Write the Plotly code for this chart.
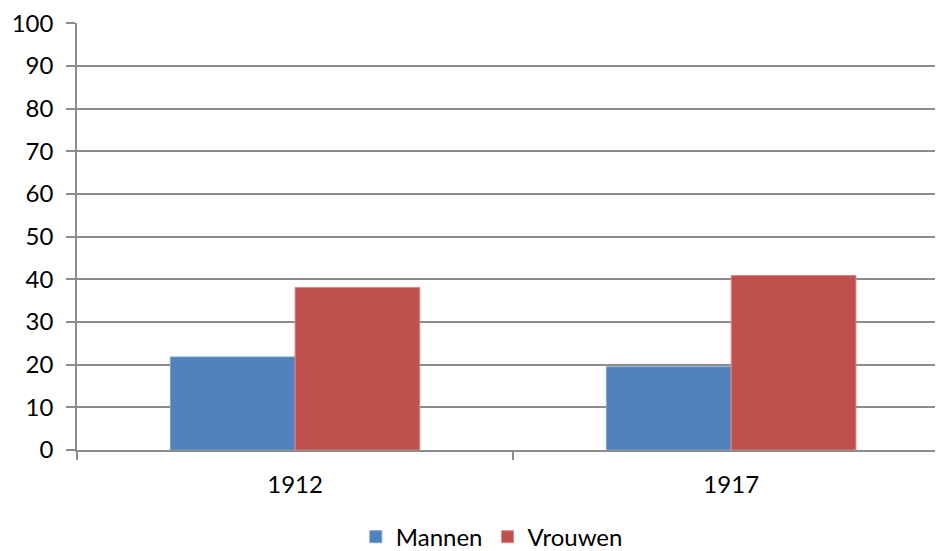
import plotly.graph_objects as go

categories = ["1912", "1917"]
mannen = [21.8, 19.5]
vrouwen = [38.1, 40.9]
y_ticks = list(range(0, 101, 10))

FONT = "Lato"
GRID = "#8c8c8c"

fig = go.Figure()
fig.add_trace(go.Bar(name="Mannen", x=categories, y=mannen,
                     marker=dict(color="#4F81BD", line=dict(color="#7fa3d1", width=1))))
fig.add_trace(go.Bar(name="Vrouwen", x=categories, y=vrouwen,
                     marker=dict(color="#C0504D", line=dict(color="#d98a88", width=1))))

fig.update_layout(
    width=943, height=551,
    margin=dict(l=69, r=8, t=15, b=109, autoexpand=False),
    paper_bgcolor="white", plot_bgcolor="white",
    barmode="group", bargap=0.428, bargroupgap=0,
    font=dict(family=FONT, size=24, color="#000000"),
    showlegend=True,
    legend=dict(orientation="h", x=0.479, xanchor="center",
                y=-0.204, yanchor="middle", font=dict(size=24), itemwidth=30,
                traceorder="normal"),
    xaxis=dict(type="category", range=[-0.5, 1.4856], showgrid=False,
               automargin=False,
               showline=True, linecolor=GRID, linewidth=1.5,
               ticks="outside", tickson="boundaries", ticklen=8, tickcolor=GRID,
               tickwidth=1.5, ticklabelstandoff=12,
               tickfont=dict(family=FONT, size=24)),
    yaxis=dict(range=[0, 100.05], tickvals=y_ticks, showgrid=True, gridcolor=GRID,
               automargin=False, ticklabeloverflow="allow",
               gridwidth=1.5, zeroline=False, showline=True, linecolor=GRID,
               linewidth=1.5, ticks="outside", ticklen=9, tickcolor=GRID,
               tickwidth=1.5, ticklabelstandoff=8,
               tickfont=dict(family=FONT, size=24)),
)

fig.write_html("out.html")
